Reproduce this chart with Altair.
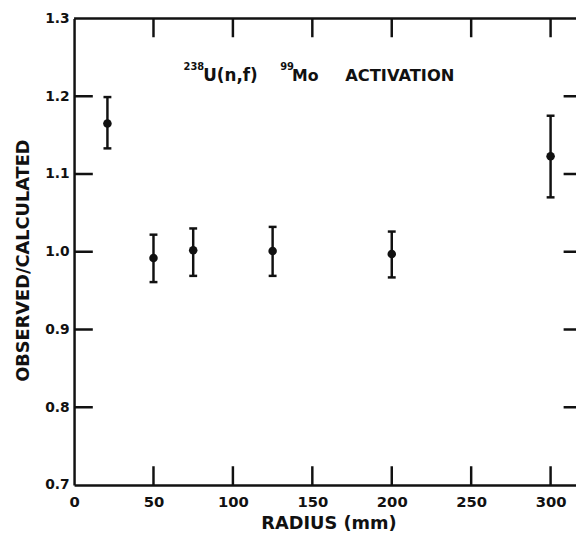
import altair as alt
import pandas as pd

# ---- data ----
radius = [21, 50, 75, 125, 200, 300]
ratio = [1.165, 0.992, 1.002, 1.001, 0.997, 1.123]
ratio_low = [1.133, 0.961, 0.969, 0.969, 0.967, 1.070]
ratio_high = [1.199, 1.022, 1.030, 1.032, 1.026, 1.175]

x_tick_values = [0, 50, 100, 150, 200, 250, 300]
y_tick_values = [0.7, 0.8, 0.9, 1.0, 1.1, 1.2, 1.3]
inner_x_ticks = [50, 100, 150, 200, 250, 300]
inner_y_ticks = [0.8, 0.9, 1.0, 1.1, 1.2]

x_domain = [0, 316]
x_frame_right = 320
y_domain = [0.7, 1.3]

title_sup1 = "238"
title_main1 = "U(n,f)"
title_sup2 = "99"
title_main2 = "Mo"
title_main3 = "ACTIVATION"
x_title = "RADIUS (mm)"
y_title = "OBSERVED/CALCULATED"

INK = "#111111"
FONT = "DejaVu Sans"

pts = pd.DataFrame({"radius": radius, "ratio": ratio, "low": ratio_low, "high": ratio_high})
xt = pd.DataFrame({"v": inner_x_ticks, "bottom": y_domain[0], "top": y_domain[1]})
yt = pd.DataFrame({"v": inner_y_ticks, "left": x_domain[0], "right": x_frame_right})
frame_top = pd.DataFrame({"y": [y_domain[1]]})

xs = alt.Scale(domain=x_domain, nice=False, zero=False)
ys = alt.Scale(domain=y_domain, nice=False, zero=False)

x_axis = alt.Axis(
    values=x_tick_values, format="d", title=x_title, ticks=False, grid=False,
    domain=True, domainColor=INK, domainWidth=2.5,
    labelFont=FONT, labelFontSize=15, labelFontWeight="bold", labelColor=INK,
    labelPadding=10, labelFlush=False,
    titleFont=FONT, titleFontSize=18, titleFontWeight="bold", titleColor=INK,
    titlePadding=5, titleX=258,
)
y_axis = alt.Axis(
    values=y_tick_values, format=".1f", title=y_title, ticks=False, grid=False,
    domain=True, domainColor=INK, domainWidth=2.5,
    labelFont=FONT, labelFontSize=14, labelFontWeight="bold", labelColor=INK,
    labelPadding=5, labelFlush=False,
    titleFont=FONT, titleFontSize=18, titleFontWeight="bold", titleColor=INK,
    titlePadding=12, titleY=245,
)


def X(field):
    return alt.X(field, scale=xs, axis=x_axis)


def Y(field):
    return alt.Y(field, scale=ys, axis=y_axis)


bars = alt.Chart(pts).mark_rule(color=INK, strokeWidth=2.5).encode(
    x=X("radius:Q"), y=Y("low:Q"), y2="high:Q",
)
cap_low = alt.Chart(pts).mark_tick(color=INK, orient="horizontal", size=8, thickness=2.5, opacity=1).encode(
    x=X("radius:Q"), y=Y("low:Q"),
)
cap_high = alt.Chart(pts).mark_tick(color=INK, orient="horizontal", size=8, thickness=2.5, opacity=1).encode(
    x=X("radius:Q"), y=Y("high:Q"),
)
points = alt.Chart(pts).mark_point(filled=True, shape="circle", size=75, color=INK, opacity=1).encode(
    x=X("radius:Q"), y=Y("ratio:Q"),
)

tick_kw = dict(color=INK, thickness=2.5, size=38, clip=True, opacity=1)
bottom_ticks = alt.Chart(xt).mark_tick(orient="vertical", **tick_kw).encode(x=X("v:Q"), y=Y("bottom:Q"))
top_ticks = alt.Chart(xt).mark_tick(orient="vertical", **tick_kw).encode(x=X("v:Q"), y=Y("top:Q"))
left_ticks = alt.Chart(yt).mark_tick(orient="horizontal", **tick_kw).encode(x=X("left:Q"), y=Y("v:Q"))
right_ticks = alt.Chart(yt).mark_tick(orient="horizontal", **tick_kw).encode(x=X("right:Q"), y=Y("v:Q"))
top_line = alt.Chart(frame_top).mark_rule(color=INK, strokeWidth=2.5).encode(y=Y("y:Q"))


def label(txt, x, y, size):
    return alt.Chart(pd.DataFrame({"t": [txt]})).mark_text(
        font=FONT, fontSize=size, fontWeight="bold", color=INK,
        align="left", baseline="alphabetic",
    ).encode(x=alt.value(x), y=alt.value(y), text="t:N")


texts = (
    label(title_sup1, 111, 52, 10)
    + label(title_main1, 131, 63, 17)
    + label(title_sup2, 209, 52, 10)
    + label(title_main2, 221, 63, 16)
    + label(title_main3, 275, 63, 16.5)
)

chart = alt.layer(
    bars, cap_low, cap_high, points,
    bottom_ticks, top_ticks, left_ticks, right_ticks, top_line, texts,
).properties(
    width=509, height=473,
    padding={"left": 67, "top": 7, "right": 0, "bottom": 46},
    autosize=alt.AutoSizeParams(type="none"),
    background="white",
).configure_view(strokeWidth=0)

chart.save("out.html", embed_options={"renderer": "svg", "actions": False})
